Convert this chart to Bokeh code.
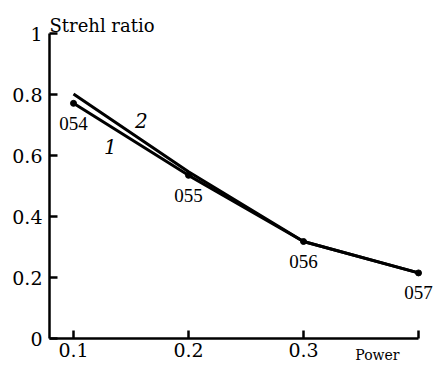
from bokeh.plotting import figure
from bokeh.models import Range1d, FixedTicker, Label, LabelSet, ColumnDataSource
from bokeh.embed import file_html
from bokeh.resources import INLINE

# data
power = [0.1, 0.2, 0.3, 0.4]
strehl_1 = [0.771, 0.535, 0.318, 0.215]
strehl_2 = [0.802, 0.547, 0.318, 0.215]
point_labels = ["054", "055", "056", "057"]
x_ticks = [0.1, 0.2, 0.3, 0.4]
y_ticks = [0, 0.2, 0.4, 0.6, 0.8, 1]

FONT = "DejaVu Serif"

p = figure(width=440, height=365, output_backend="svg", toolbar_location=None,
           x_range=Range1d(0.03652, 0.41913), y_range=Range1d(-0.08852, 1.10820),
           min_border_left=0, min_border_right=0, min_border_top=0, min_border_bottom=0)
p.outline_line_color = None
p.grid.visible = False
p.background_fill_color = "white"

p.line(power, strehl_2, line_color="black", line_width=3)
p.line(power, strehl_1, line_color="black", line_width=3)
p.scatter(power, strehl_1, size=6, color="black")

for ax in (p.xaxis[0], p.yaxis[0]):
    ax.axis_line_width = 2.5
    ax.major_tick_line_width = 2.5
    ax.major_tick_in = 8
    ax.major_tick_out = 0
    ax.minor_tick_in = 0
    ax.minor_tick_out = 0
    ax.major_label_text_font = FONT
    ax.major_label_text_font_size = "19px"
    ax.major_label_text_color = "black"

p.xaxis.ticker = FixedTicker(ticks=x_ticks)
p.xaxis.major_label_overrides = {0.4: ""}
p.xaxis.major_label_standoff = 4
p.xaxis.bounds = (0.0791, 0.4)
p.xaxis.fixed_location = 0
p.yaxis.ticker = FixedTicker(ticks=y_ticks)
p.yaxis.major_label_overrides = {0: "0", 1: "1"}
p.yaxis.major_label_standoff = 7
p.yaxis.bounds = (0, 1)
p.yaxis.fixed_location = 0.0791

src = ColumnDataSource(dict(x=power, y=strehl_1, t=point_labels))
p.add_layout(LabelSet(x="x", y="y", text="t", source=src, y_offset=-20,
                      text_align="center", text_baseline="middle",
                      text_font=FONT, text_font_size="19px", text_color="black"))

p.add_layout(Label(x=0.132, y=0.63, text="1", text_font=FONT, text_font_style="italic",
                   text_font_size="20px", text_align="center", text_baseline="middle",
                   text_color="black"))
p.add_layout(Label(x=0.159, y=0.715, text="2", text_font=FONT, text_font_style="italic",
                   text_font_size="20px", text_align="center", text_baseline="middle",
                   text_color="black"))
p.add_layout(Label(x=0.0791, y=1.026, text="Strehl ratio", text_font=FONT,
                   text_font_size="18px", text_align="left", text_baseline="alphabetic",
                   text_color="black"))
p.add_layout(Label(x=0.3643, y=-0.0525, text="Power", text_font=FONT,
                   text_font_size="14px", text_align="center", text_baseline="middle",
                   text_color="black"))

open("out.html", "w").write(file_html(p, INLINE))
